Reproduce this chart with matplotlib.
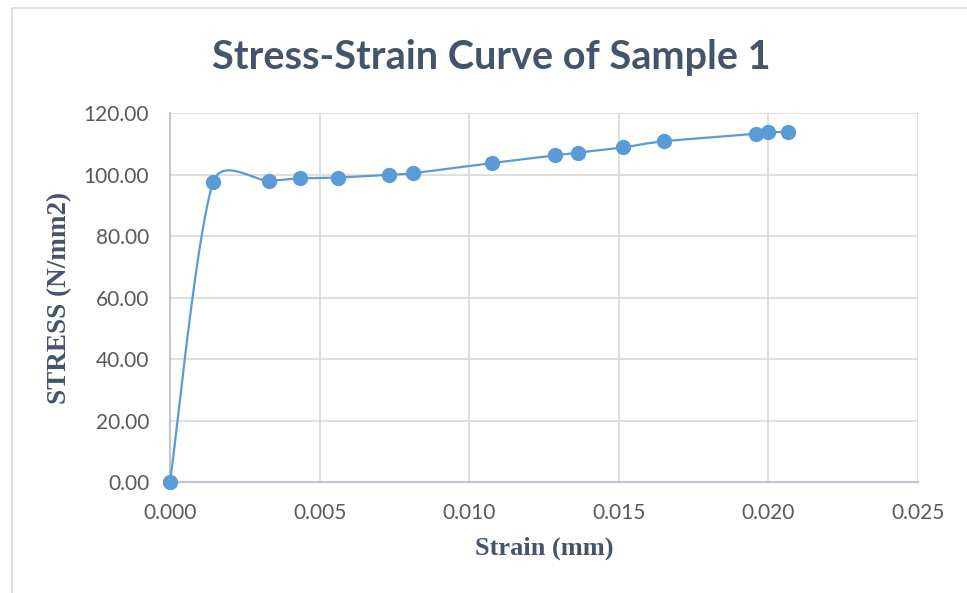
import numpy as np
import matplotlib
matplotlib.use("Agg")
import matplotlib.pyplot as plt
from matplotlib.patches import Rectangle

strain = [0.0, 0.00144, 0.00331, 0.00433, 0.00563, 0.00733, 0.00811, 0.01076,
          0.01286, 0.01364, 0.01514, 0.01652, 0.01958, 0.02000, 0.02067]
stress = [0.0, 97.5, 98.05, 98.8, 99.1, 100.0, 100.5, 103.8,
          106.3, 107.2, 108.9, 110.9, 113.3, 113.9, 113.8]

title = "Stress-Strain Curve of Sample 1"
xlabel = "Strain (mm)"
ylabel = "STRESS (N/mm2)"
xticks = [0.000, 0.005, 0.010, 0.015, 0.020, 0.025]
yticks = [0, 20, 40, 60, 80, 100, 120]

W, H = 967, 593
fig = plt.figure(figsize=(W / 100, H / 100), dpi=100)
fig.patch.set_facecolor("white")
fig.patches.append(Rectangle((12 / W, -0.01), 1.02, 1 - 8 / H + 0.01, transform=fig.transFigure,
                             fill=False, edgecolor="#D9D9D9", linewidth=1.2))

ax = fig.add_axes([170 / W, 1 - 482 / H, (918 - 170) / W, (482 - 113.3) / H])
ax.set_xlim(0, 0.025)
ax.set_ylim(0, 120)

line_color = "#5B9BD5"
text_color = "#44546A"
tick_color = "#595959"

# Excel-style smoothed line computed in display space
pts = ax.transData.transform(np.column_stack([strain, stress]))
n = len(pts)
curve = [pts[0]]
for i in range(n - 1):
    p0 = pts[i - 1] if i > 0 else pts[i]
    p1 = pts[i]
    p2 = pts[i + 1]
    p3 = pts[i + 2] if i + 2 < n else pts[i + 1]
    d12 = np.linalg.norm(p2 - p1)
    t1 = (p2 - p0) / 6.0
    if np.linalg.norm(t1) > d12 / 2:
        t1 = t1 / np.linalg.norm(t1) * d12 / 2
    t2 = (p3 - p1) / 6.0
    if np.linalg.norm(t2) > d12 / 2:
        t2 = t2 / np.linalg.norm(t2) * d12 / 2
    c1 = p1 + t1
    c2 = p2 - t2
    t = np.linspace(0, 1, 40)[1:, None]
    seg = ((1 - t) ** 3) * p1 + 3 * ((1 - t) ** 2) * t * c1 + 3 * (1 - t) * t ** 2 * c2 + t ** 3 * p2
    curve.extend(seg)
curve = ax.transData.inverted().transform(np.array(curve))
ax.plot(curve[:, 0], curve[:, 1], color=line_color, linewidth=1.6, zorder=3, clip_on=False)
ax.plot(strain, stress, linestyle="none", marker="o", markersize=10, color=line_color,
        zorder=4, clip_on=False)

ax.set_xticks(xticks)
ax.set_yticks(yticks)
ax.set_xticklabels([f"{v:.3f}" for v in xticks])
ax.set_yticklabels([f"{v:.2f}" for v in yticks])
ax.grid(True, color="#D9D9D9", linewidth=1.2)
ax.set_axisbelow(True)
for s in ["top", "right"]:
    ax.spines[s].set_visible(False)
ax.spines["left"].set_color("#BFC7D5")
ax.spines["bottom"].set_color("#BFC7D5")
ax.spines["left"].set_linewidth(1.5)
ax.spines["bottom"].set_linewidth(1.5)
ax.tick_params(length=0, labelsize=15, labelcolor=tick_color)
ax.tick_params(axis="y", pad=15)
ax.tick_params(axis="x", pad=15)
for lab in ax.get_xticklabels() + ax.get_yticklabels():
    lab.set_family("Lato")

ax.set_xlabel(xlabel, family="Liberation Serif", fontweight="bold", fontsize=19,
              color=text_color, va="center")
ax.set_ylabel(ylabel, family="Liberation Serif", fontweight="bold", fontsize=19.5,
              color=text_color, va="center")
ax.xaxis.set_label_coords(0.5, (482 - 548) / (482 - 113.3))
ax.yaxis.set_label_coords((60 - 170) / (918 - 170), 0.5)

fig.text(491 / W, 1 - 57 / H, title, ha="center", va="center", fontsize=28.5,
         fontweight="bold", family="Lato", color=text_color)

fig.savefig("out.png", dpi=100)
